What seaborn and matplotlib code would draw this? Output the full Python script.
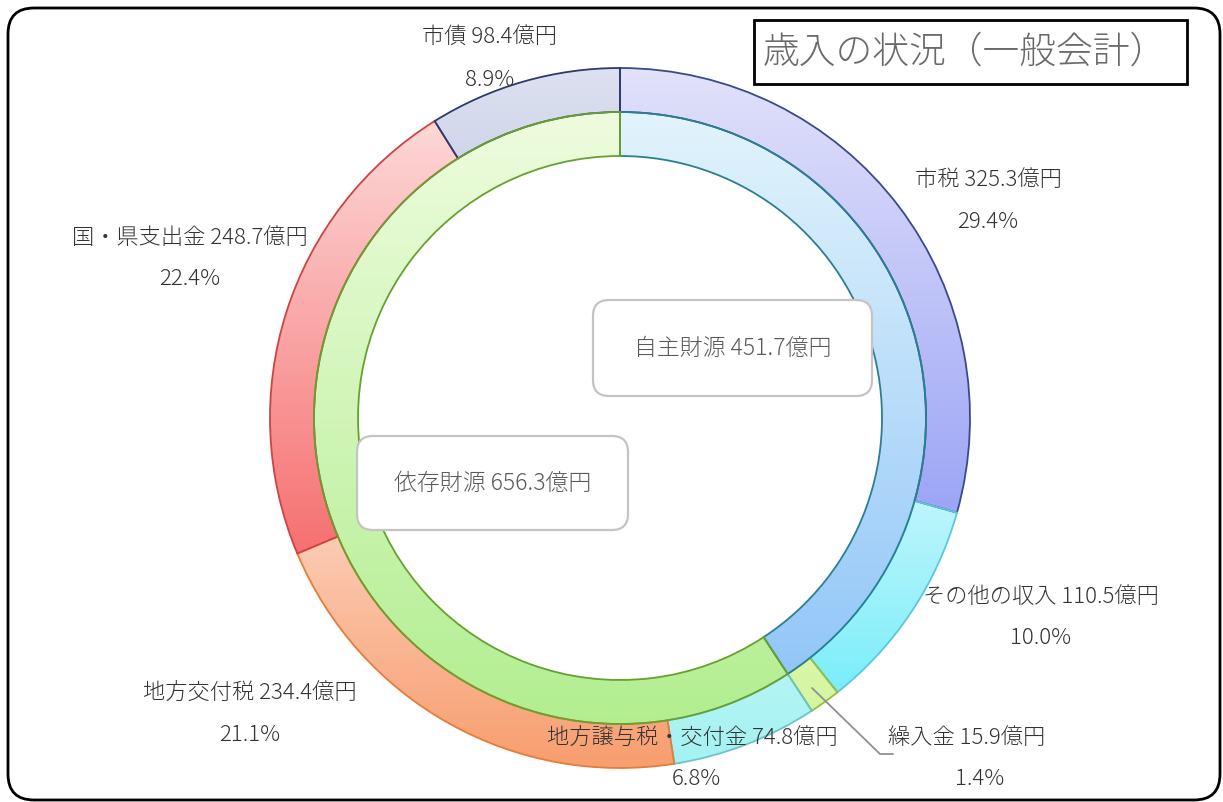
import numpy as np
import seaborn as sns
import matplotlib.pyplot as plt
from matplotlib.colors import to_rgba
from matplotlib.patches import FancyBboxPatch, Rectangle

sns.set_style('white')
plt.rcParams['font.family'] = ['Noto Sans CJK JP', 'DejaVu Sans']

# data
outer_names = ['市税', 'その他の収入', '繰入金', '地方譲与税・交付金',
               '地方交付税', '国・県支出金', '市債']
outer_values = [325.3, 110.5, 15.9, 74.8, 234.4, 248.7, 98.4]
outer_pcts = [29.4, 10.0, 1.4, 6.8, 21.1, 22.4, 8.9]
inner_names = ['自主財源', '依存財源']
inner_values = [451.7, 656.3]
title = '歳入の状況（一般会計）'

# styles: (top colour, bottom colour, edge colour)
outer_styles = [('#e2e2fa', '#9ca5f6', '#3a4a8a'),
                ('#dcf8fc', '#7aeefa', '#5cc6e0'),
                ('#f2fcd0', '#d4f6a0', '#98bc40'),
                ('#e4fcfa', '#a4f2f2', '#6cc4c8'),
                ('#fde2d6', '#f89c6c', '#e47c3a'),
                ('#fdd8d8', '#f67070', '#cc4444'),
                ('#dde1f0', '#a8b2d8', '#2c3a70')]
inner_styles = [('#e2f4fc', '#92c6f8', '#2a8090'),
                ('#eefcde', '#b2ee90', '#68a030')]

# label centres in pixels (line 1, line 2)
outer_label_pos = [((988, 180), (988, 222)),
                   ((1041, 597), (1041, 638)),
                   ((967, 738), (980, 779)),
                   ((692, 738), (696, 779)),
                   ((250, 693), (250, 735)),
                   ((190, 238), (190, 279)),
                   ((490, 38), (490, 80))]
inner_box = [(593, 300, 279, 96), (357, 436, 271, 94)]

W, H = 1223, 802
CX, CY = 620, 418


def Y(y):
    return H - y


fig = plt.figure(figsize=(W / 100, H / 100), dpi=100)
ax = fig.add_axes([0, 0, 1, 1])


def fill_gradient(w, top, bottom):
    v = w.get_path().vertices
    x0, x1 = v[:, 0].min(), v[:, 0].max()
    y0, y1 = v[:, 1].min(), v[:, 1].max()
    c0, c1 = np.array(to_rgba(bottom)), np.array(to_rgba(top))
    t = np.linspace(0, 1, 256)[:, None]
    img = (c0 + (c1 - c0) * t)[:, None, :]
    im = ax.imshow(img, extent=(x0, x1, y0, y1), origin='lower',
                   aspect='auto', zorder=0.5, interpolation='bilinear')
    im.set_clip_path(w)
    w.set_facecolor('none')


outer, _ = ax.pie(outer_values, radius=350, center=(CX, Y(CY)),
                  startangle=90, counterclock=False,
                  wedgeprops=dict(width=44, linewidth=1.3))
inner, _ = ax.pie(inner_values, radius=306, center=(CX, Y(CY)),
                  startangle=90, counterclock=False,
                  wedgeprops=dict(width=44, linewidth=1.3))

for w, (top, bot, ec) in zip(outer, outer_styles):
    w.set_edgecolor(ec)
    fill_gradient(w, top, bot)
for w, (top, bot, ec) in zip(inner, inner_styles):
    w.set_edgecolor(ec)
    fill_gradient(w, top, bot)

# outer labels
for name, val, pct, (p1, p2) in zip(outer_names, outer_values, outer_pcts,
                                    outer_label_pos):
    ax.text(p1[0], Y(p1[1]), f'{name} {val:.1f}億円', ha='center',
            va='center', fontsize=16, color='#333333', fontweight='light',
            zorder=5)
    ax.text(p2[0], Y(p2[1]), f'{pct:.1f}%', ha='center', va='center',
            fontsize=16, color='#333333', fontweight='light', zorder=5)

# leader line for 繰入金
ax.plot([812, 880, 893], [Y(688), Y(754), Y(754)], color='#909090',
        lw=1.3, zorder=4)

# inner boxes
for name, val, (bx, by, bw, bh) in zip(inner_names, inner_values, inner_box):
    box = FancyBboxPatch((bx, Y(by + bh)), bw, bh,
                         boxstyle='round,pad=0,rounding_size=16',
                         fc='white', ec='#c4c4c4', lw=1.6, zorder=6)
    ax.add_patch(box)
    ax.text(bx + bw / 2, Y(by + bh / 2), f'{name} {val:.1f}億円',
            ha='center', va='center', fontsize=16.5, color='#5a5a5a',
            fontweight='light', zorder=7)

# title box
ax.add_patch(Rectangle((754, Y(84)), 433, 64, fc='white', ec='black',
                       lw=2, zorder=6))
ax.text(763, Y(52), title, ha='left', va='center', fontsize=26.5,
        color='#6a6a6a', fontweight='light', zorder=7)

# outer frame
ax.add_patch(FancyBboxPatch((8, Y(800)), 1212, 792,
                            boxstyle='round,pad=0,rounding_size=26',
                            fc='none', ec='black', lw=2, zorder=8,
                            clip_on=False))

ax.set_xlim(0, W)
ax.set_ylim(0, H)
ax.set_aspect('auto')
ax.axis('off')
fig.savefig('out.png', dpi=100, facecolor='white')
